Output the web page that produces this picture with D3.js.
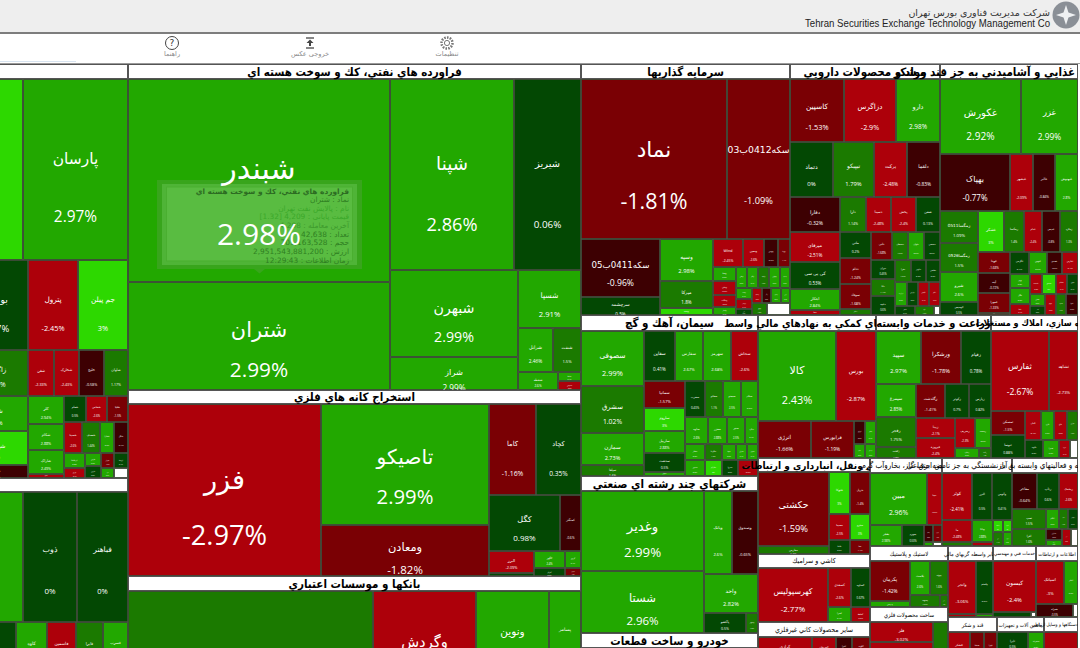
<!DOCTYPE html>
<html>

<head>
  <meta charset="utf-8">
  <title>نقشه بازار</title>
  <script src="https://d3js.org/d3.v7.min.js"></script>
  <style>
    html, body { margin: 0; padding: 0; background: #fff; overflow: hidden; }
    svg { display: block; }
    text { font-family: "DejaVu Sans", sans-serif; }
    .pct { font-family: "Open Sans", sans-serif; direction: ltr; }
    .name { direction: rtl; }
    .rtl { direction: rtl; }
    .title { font-family: "DejaVu Sans Condensed", "DejaVu Sans", sans-serif; }
  </style>
</head>

<body>
  <svg id="map_svg"></svg>

<script>
  // every leaf is [name, percent change, market size]; groups are ["x" | "y", ...children]
  const sector = (title, headerSize, cells) => ["y", ["^" + title, null, headerSize], cells];

  const petroCells = ["y",
    ["x", ["", 3, 10679], ["پارسان", 2.97, 19005]],
    ["x", ["بوعلی", 0.97, 5760], ["پترول", -2.45, 4500], ["جم پیلن", 3, 4500]],
    ["x",
      ["y", ["زاگرس", 1.16, 2944], ["شکلر", 2.5, 2240], ["شپدیس", 3, 2176], ["شملی", -0.6, 832]],
      ["y",
        ["x", ["شفن", -2.33, 1196], ["شخارک", -2.43, 1150], ["خلیج", -0.58, 1150], ["شاوان", 1.17, 1104]],
        ["x",
          ["y", ["کلر", 2.94, 1008], ["شکام", 2.88, 936], ["شاراک", 2.49, 864], ["شکبیر", -2.1, 144]],
          ["y",
            ["x", ["شفام", 0.5, 572], ["شخاص", -2.6, 546], ["شلیا", -1.5, 546]],
            ["x", ["شسینا", -2.6, 558], ["شصدف", 1.44, 558], ["شفارا", 2.5, 434], ["شگل", -0.4, 434]],
            ["x",
              ["y", ["کرماشا", 2.2, 315], ["نوری", -2.4, 210]],
              ["y", ["فارس", 2.6, 208], ["مارون", 0.3, 192]],
              ["y", ["شیراز", -1.6, 195], ["امیر", 2.5, 130]],
              ["y", ["ارومیا", 0.4, 210], ["", null, 140]]
            ]
          ]
        ]
      ]
    ]
  ];

  const basicMetalCells = ["y",
    ["x", ["", 2.5, 7670], ["ذوب", 0, 7020], ["فباهنر", 0, 6630]],
    ["x", ["", 0.4, 2496], ["کاوه", 2.6, 1488], ["فاسمین", -2.4, 1392], ["فایرا", 1.4, 1296], ["فسرب", 2.5, 1200]],
    ["", 0.4, 14760]
  ];

  const oilCells = ["x",
    ["y", ["شبندر", 2.98, 53186], ["شتران", 2.99, 28296]],
    ["y",
      ["x", ["شپنا", 2.86, 23684], ["شیریز", 0.06, 12797]],
      ["x",
        ["y", ["شبهرن", 2.99, 11136], ["شراز", 2.99, 4224]],
        ["y",
          ["شسپا", 2.91, 3654],
          ["x", ["شرانل", 2.46, 1540], ["شنفت", 1.5, 1232]],
          ["x", ["شفطه", 2.6, 720], ["y", ["شاملا", 2.4, 207], ["شدوص", -2.2, 207]]]
        ]
      ]
    ]
  ];

  const miningCells = ["x",
    ["فزر", -2.97, 33196],
    ["y", ["تاصیکو", 2.99, 20328], ["ومعادن", -1.82, 8568]],
    ["y",
      ["x", ["کاما", -1.16, 4277], ["کچاد", 0.35, 4095]],
      ["x", ["کگل", 0.98, 3976], ["کمنگنز", -0.6, 1176]],
      ["x",
        ["y", ["البرز", -2.09, 990], ["", 0.5, 135]],
        ["y",
          ["x", ["کگهر", 2.4, 527], ["کروی", 2.1, 272]],
          ["x", ["کترام", 0.5, 248], ["کبافق", -1.5, 128]]
        ]
      ]
    ]
  ];

  const bankCells = ["x",
    ["", 1.6, 41405],
    ["y", ["وگردش", -2.6, 11742], ["", -2.6, 5665]],
    ["y", ["ونوین", 2.9, 6570], ["", 2.4, 5767]],
    ["y", ["پسامر", 2.6, 2816], ["", 2.4, 2592]]
  ];

  const investCells = ["y",
    ["x", ["نماد", -1.81, 23360], ["سکه0412ب03", -1.09, 10080]],
    ["x",
      ["y", ["سکه0411ب05", -0.96, 4611], ["سرچشمه", 0.5, 1431]],
      ["y", ["وسپه", 2.98, 2205], ["میرکا", 1.8, 1418], ["وبیمه", 3, 368]],
      ["y",
        ["x", ["Wind", -2.45, 836], ["ومعین", -2.6, 599], ["وتوس", -0.5, 392], ["وپویا", -1.4, 329]],
        ["x",
          ["y", ["وصنا", 2.6, 322], ["ونیکی", -2.3, 322], ["وسکاب", -2.2, 276], ["ولتجار", 2.4, 184]],
          ["y",
            ["x", ["وملی", 2.5, 231], ["وکار", 2.4, 231], ["وامید", 1.5, 231], ["ومهان", 2.6, 231], ["وساپا", 2.2, 210]],
            ["x",
              ["y", ["ونفت", 2.4, 176], ["وبهمن", -2.4, 160], ["واتی", 0.4, 96]],
              ["y",
                ["x", ["واعتبار", -2.3, 150], ["وآذر", -0.6, 135], ["وسین", 2.5, 150], ["ودی", 2.2, 135]],
                ["x", ["وثوق", 1.3, 180], ["", null, 276]]
              ]
            ]
          ]
        ]
      ]
    ]
  ];

  const pharmaCells = ["y",
    ["x", ["کاسپین", -1.53, 3402], ["دزاگرس", -2.9, 3276], ["دارو", 2.98, 2772]],
    ["x", ["دتماد", 0, 2365], ["تیپیکو", 1.79, 2255], ["برکت", -2.48, 1815], ["دلقما", -0.83, 1815]],
    ["x", ["دفارا", -0.32, 1750], ["دارا", 1.14, 910], ["دسینا", -2.48, 875], ["پخش", -2.4, 875], ["شفن", 0.13, 840]],
    ["x",
      ["y", ["میرفای", -2.51, 1500], ["کی بی سی", 0.53, 1350], ["ابتکار", 2.84, 1050], ["شفا", -2.1, 250]],
      ["y", ["ملتی", 0.2, 806], ["ددام", -1.24, 806], ["سوفاد", -1.68, 775], ["دجابر", 1.2, 186]],
      ["y",
        ["x", ["دلپی", -1.68, 588], ["دسبحان", 1.5, 448], ["دتوان", 2.5, 448], ["دشیمی", 0.5, 448]],
        ["x",
          ["y", ["دیران", 0.45, 456], ["دانا", 1.4, 408], ["دعبید", 0.6, 456]],
          ["y",
            ["x", ["دفرا", 1.5, 352], ["دکوثر", 0.5, 330], ["دقاضی", 0.5, 308]],
            ["x", ["درازک", 2.5, 288], ["دپارس", 0.5, 264], ["دکیمی", -2.4, 264], ["دالبر", -2.5, 264]],
            ["x", ["دامین", 0.4, 180], ["داوه", 1.5, 171], ["", null, 54]]
          ]
        ]
      ]
    ]
  ];

  const foodCells = ["y",
    ["x", ["غکورش", 2.92, 6075], ["غزر", 2.99, 4275]],
    ["x", ["بهپاک", -0.77, 3990], ["غبشهر", -2.09, 1311], ["غالبر", -0.84, 1254], ["غبهنوش", 2.8, 1311]],
    ["x",
      ["y", ["زمگسا0511", 1.09, 1216], ["زمگسا0526", 1.5, 1102], ["شیرو", 2.6, 1140], ["گوسیس", 0.5, 494]],
      ["y",
        ["x", ["غشکر", 3, 1066], ["زمگسا", 1.4, 820], ["غدام", -2.4, 738], ["غدیس", -0.8, 738], ["زملارد", 1.3, 738]],
        ["x",
          ["y", ["غویتا", -1.68, 672], ["آینه", -0.72, 640], ["غمهرا", -1.33, 640], ["غپاک", -2.2, 64]],
          ["y",
            ["x", ["غگرجی", 0.4, 418], ["غنوش", 2.5, 396], ["غصینو", -0.6, 330], ["غفارس", -2.4, 352]],
            ["x",
              ["y", ["بهپیر", 2.2, 280], ["غگل", 2.6, 320], ["غنیلا", -2.4, 220]],
              ["y",
                ["x", ["غدشت", -2.3, 240], ["غمینو", 3, 280], ["غسالم", -2.4, 220], ["غچین", 0.4, 220]],
                ["x",
                  ["y", ["غشان", 2.6, 180], ["غاذر", 0.3, 135]],
                  ["غپینو", -2.3, 231], ["غشهد", 1.6, 210], ["غیوا", -0.5, 252]
                ]
              ]
            ]
          ]
        ]
      ]
    ]
  ];

  const cementCells = ["x",
    ["y", ["سصوفی", 2.99, 3465], ["سشرق", 1.02, 2961], ["سمازن", 2.73, 2016], ["سپاها", 1.4, 693]],
    ["y",
      ["x", ["سقاین", 0.41, 1550], ["سفارس", 2.67, 1425], ["سهرمز", 2.68, 1400], ["سخاش", -2.6, 1325]],
      ["x",
        ["y", ["سمانیا", -1.57, 1107], ["ساروم", 3, 943], ["ساربیل", 2.88, 902], ["سدشت", 0.5, 779], ["سبهان", 2.6, 164]],
        ["y",
          ["x", ["سغرب", 0.43, 720], ["سفانو", 1.1, 648], ["سبجنو", 2.5, 648], ["سیلام", 2.6, 612]],
          ["x", ["ساوه", 2.6, 621], ["سخزر", 2.88, 513], ["سنیر", 2.5, 486], ["سکرد", 2.4, 351]],
          ["x", ["سفار", 2.5, 320], ["سکرما", 1.6, 272], ["سپیا", 2.5, 224], ["ستران", 2.4, 176], ["سنوین", 2.4, 176]],
          ["x", ["سدور", 2.5, 320], ["سارام", 3, 272], ["سبزوا", 0.6, 256], ["سرود", -2.6, 320]]
        ]
      ]
    ]
  ];

  const conglomCells = ["x",
    ["y", ["وغدیر", 2.99, 9840], ["شستا", 2.96, 7626]],
    ["y",
      ["x", ["وبانک", 2.6, 2324], ["وصندوق", -0.65, 2158]],
      ["واحد", 2.82, 2106],
      ["x", ["پاکشو", 0.5, 840], ["وسپهر", 1.5, 240]]
    ]
  ];

  const autoCells = ["", 2.4, 19824];

  const finAidCells = ["y",
    ["x", ["کالا", 2.43, 7020], ["بورس", -2.87, 3600]],
    ["x",
      ["انرژی", -1.66, 1961],
      ["فرابورس", -1.19, 1591],
      ["y", ["اوراق", -0.5, 253], ["افق", 2.5, 154]],
      ["y", ["بفجر", 2.4, 253], ["ارزش", 2.5, 154]]
    ]
  ];

  const agriCells = ["y",
    ["x", ["سپید", 2.97, 2385], ["ورشکرا", -1.78, 2120], ["زقیام", 0.78, 1590]],
    ["x",
      ["y", ["سیمرغ", 2.85, 1320], ["زفجر", 1.75, 1200], ["زکشت", 1.3, 440]],
      ["y",
        ["x", ["زگلدشت", -1.41, 986], ["زکوثر", 0.7, 816], ["زپارس", 0.82, 748]],
        ["x",
          ["y", ["زبینا", -2.1, 780], ["فیروزه", -2.4, 780]],
          ["y",
            ["x", ["زشریف", -2.3, 600], ["زدشت", 2.6, 480]],
            ["x", ["زملارد", 2.5, 240], ["زمگسا", 1.5, 120]]
          ]
        ]
      ]
    ]
  ];

  const estateCells = ["y",
    ["x", ["ثفارس", -2.67, 4640], ["ثشاهد", -2.73, 2320]],
    ["x",
      ["y", ["ثمسکن", -1.5, 816], ["ثنوسا", 0.88, 782]],
      ["y",
        ["x", ["ثامان", -2.4, 464], ["ثاژن", 2.5, 377], ["ثباغ", -2.3, 377], ["ثتران", 1.5, 319]],
        ["x", ["ثالوند", 0.5, 324], ["ثعمرا", 2.6, 288], ["ثرود", -2.4, 198], ["", null, 144]]
      ]
    ]
  ];

  const transportCells = ["x",
    ["y", ["حکشتی", -1.59, 5254], ["حفارس", 1.5, 568]],
    ["y",
      ["x", ["حتوکا", 3, 882], ["حریل", -1.4, 840]],
      ["x", ["حسینا", -2.5, 546], ["حپترو", 3, 520]],
      ["x", ["حآسا", 0.6, 294], ["حفا", -1.4, 280]]
    ]
  ];

  const ceramicCells = ["x",
    ["کهرسپولیس", -2.77, 3780],
    ["y",
      ["x", ["کسعدی", -2.6, 897], ["کساوه", 0.67, 741]],
      ["x", ["کسرا", 2.4, 345], ["کحافظ", -2.6, 285]]
    ]
  ];

  const mineralCells = ["y",
    ["x", ["کرازی", -2.5, 1188], ["کمرجان", -2.4, 528], ["کفرا", -0.7, 352], ["کلوند", -1.5, 396]],
    ["", -2.4, 11312]
  ];

  const electricCells = ["y",
    ["x", ["مبین", 2.96, 2964], ["بمپنا", -2.5, 780]],
    ["x", ["بفجر", 2.98, 672], ["بجهرم", 0.53, 462],
      ["y", ["بکام", -0.8, 153], ["", 2.5, 36]],
      ["y", ["بنیرو", -1.2, 153], ["", null, 36]]
    ]
  ];

  const insuranceCells = ["y",
    ["x", ["کوثر", -2.41, 1410], ["البرز", 0.5, 940], ["وآتوس", 0.41, 940]],
    ["x",
      ["y", ["ما", -2.48, 660], ["", 1.5, 120]],
      ["y", ["ودانا", 2.88, 462], ["", -2.4, 84]],
      ["y",
        ["x", ["حافظ", 3, 120], ["آسیا", 3, 108]],
        ["x", ["دی", 1.4, 140], ["میهن", 2.5, 126]]
      ]
    ]
  ];

  const computerCells = ["y",
    ["x", ["مفاخر", -0.64, 900], ["رتاپ", 0.6, 792], ["ریشمک", -2.6, 684]],
    ["x",
      ["y", ["سپ", 1.5, 680], ["افرا", 1.6, 578]],
      ["y",
        ["x", ["اتکام", 2.5, 260], ["انفو", 1.5, 180], ["رکیش", 0.5, 200]],
        ["x",
          ["y", ["مداران", -0.6, 176], ["ایرکا", 2.5, 96]],
          ["فن", -2.5, 153],
          ["", null, 119]
        ]
      ]
    ]
  ];

  const plasticCells = ["x",
    ["y", ["پکرمان", -1.42, 1600], ["پدرخش", 2.6, 240]],
    ["y",
      ["x", ["پلاست", 2.6, 680], ["پیوند", 1.6, 612]],
      ["x", ["پسهند", 1.5, 360], ["پتایر", 1.5, 96]]
    ]
  ];

  const metalProductCells = ["x",
    ["y", ["فلز", -3.02, 1260], ["", -2.6, 7434]],
    ["فجر", 1.5, 2070]
  ];

  const finBrokerCells = ["x",
    ["y", ["واتجر", -3.06, 1484], ["", -2.2, 84]],
    ["y", ["ولصنم", 0.6, 901], ["", 2.4, 51]]
  ];

  const engineeringCells = ["y",
    ["کیسون", -2.4, 2193],
    ["x", ["", 0.5, 190], ["", null, 25]]
  ];

  const infoCells = ["y",
    ["x", ["اسیاتک", -3, 1204], ["اخابر", 2.6, 602]],
    ["x", ["همراه", -0.5, 481], ["", null, 65]]
  ];

  const sugarCells = ["y",
    ["x", ["قشکر", -2.6, 675], ["قنیشا", -1.5, 420], ["قپیرا", -1.4, 375]],
    ["", -2.4, 4802]
  ];

  const machineCells = ["y",
    ["x", ["تایرا", 0.5, 620], ["تمحرکه", 2.3, 320]],
    ["", 0.5, 5076]
  ];

  const otherCells = ["لخزر", -2.6, 4352];

  const tooltipLines = [
    "فراورده هاي نفتي، كك و سوخت هسته اي",
    "نماد : شتران",
    "نام : پالایش نفت تهران",
    "قیمت پایانی : 4,209 [1.32]",
    "آخرین معامله : 4,208",
    "تعداد : 42,638",
    "حجم : 701,163,528",
    "ارزش : 2,951,543,881,200",
    "زمان اطلاعات : 12:29:43"
  ];
  const toolbarLabels = ["راهنما", "خروجی عکس", "تنظیمات"];

  const tree = ["x",
    ["y", sector("", 2460, petroCells), sector("", 2296, basicMetalCells)],
    ["y",
      sector("فراورده هاي نفتي، كك و سوخت هسته اي", 6795, oilCells),
      sector("استخراج كانه هاي فلزي", 6342, miningCells),
      sector("بانكها و موسسات اعتباري", 6795, bankCells)
    ],
    ["y",
      ["x",
        sector("سرمايه گذاريها", 3135, investCells),
        sector("مواد و محصولات دارويي", 2250, pharmaCells),
        sector("غذايي و آشاميدني به جز قند و شكر", 2070, foodCells)
      ],
      ["x",
        ["y",
          sector("سيمان، آهك و گچ", 2832, cementCells),
          sector("شركتهاي چند رشته اي صنعتي", 2655, conglomCells),
          sector("خودرو و ساخت قطعات", 2655, autoCells)
        ],
        ["y",
          ["x",
            sector("فعاليتهاي كمكي به نهادهاي مالي واسط", 1888, finAidCells),
            sector("زراعت و خدمات وابسته", 1840, agriCells),
            sector("انبوه سازي، املاك و مستغلات", 1392, estateCells)
          ],
          ["x",
            ["y",
              sector("حمل ونقل، انبارداري و ارتباطات", 1568, transportCells),
              sector("كاشي و سراميك", 1568, ceramicCells),
              sector("ساير محصولات كاني غيرفلزي", 1680, mineralCells)
            ],
            ["y",
              ["x",
                sector("عرضه برق، گاز، بخاروآب گرم", 1080, electricCells),
                sector("بيمه وصندوق بازنشستگي به جز تامين اجتماعي", 1050, insuranceCells),
                sector("رايانه و فعاليتهاي وابسته به آن", 990, computerCells)
              ],
              ["x",
                ["y",
                  sector("لاستيك و پلاستيك", 1170, plasticCells),
                  sector("ساخت محصولات فلزي", 1170, metalProductCells)
                ],
                ["y",
                  ["x",
                    sector("ساير واسطه گريهاي مالي", 675, finBrokerCells),
                    sector("خدمات فني و مهندسي", 645, engineeringCells),
                    sector("اطلاعات و ارتباطات", 630, infoCells)
                  ],
                  ["x",
                    sector("قند و شكر", 735, sugarCells),
                    sector("ماشين آلات و تجهيزات", 705, machineCells),
                    sector("ساخت دستگاهها و وسايل ارتباطي", 510, otherCells)
                  ]
                ]
              ]
            ]
          ]
        ]
      ]
    ]
  ];

  var width = 1080;
  var height = 648;

  // the map starts left of the window and ends below it, as in the screenshot
  const mapLeft = -36, mapTop = 64, mapWidth = 1114, mapHeight = 696;

  const titleSizes = {
    "فعاليتهاي كمكي به نهادهاي مالي واسط": 10.5,
    "زراعت و خدمات وابسته": 11,
    "انبوه سازي، املاك و مستغلات": 9,
    "حمل ونقل، انبارداري و ارتباطات": 10,
    "كاشي و سراميك": 7,
    "ساير محصولات كاني غيرفلزي": 7,
    "لاستيك و پلاستيك": 6,
    "عرضه برق، گاز، بخاروآب گرم": 8,
    "بيمه وصندوق بازنشستگي به جز تامين اجتماعي": 8,
    "رايانه و فعاليتهاي وابسته به آن": 8,
    "ساير واسطه گريهاي مالي": 5.5,
    "خدمات فني و مهندسي": 4.8,
    "اطلاعات و ارتباطات": 5,
    "ساخت محصولات فلزي": 5.8,
    "قند و شكر": 5.5,
    "ماشين آلات و تجهيزات": 5.2,
    "ساخت دستگاهها و وسايل ارتباطي": 4.6
  };

  var color = d3.scaleThreshold()
    .domain([-2, -1, 0, 1, 2, 3])
    .range(["#ad000a", "#7a0004", "#3d0002", "#034803", "#1b7a00", "#22a800", "#2dd800"]);

  const isGroup = d => (d[0] === "x" || d[0] === "y") && Array.isArray(d[1]);

  const root = d3.hierarchy(tree, d => isGroup(d) ? d.slice(1) : null)
    .sum(d => isGroup(d) ? 0 : d[2]);

  d3.treemap()
    .size([mapWidth, mapHeight])
    .round(true)
    .tile((node, x0, y0, x1, y1) =>
      (node.data[0] === "x" ? d3.treemapDice : d3.treemapSlice)(node, x0, y0, x1, y1))(root);

  var svg = d3.select("#map_svg")
    .attr("width", width)
    .attr("height", height);

  // page header
  svg.append("rect").attr("width", width).attr("height", 33).attr("fill", "#eeeeee");
  svg.append("rect").attr("y", 32).attr("width", width).attr("height", 2).attr("fill", "#7d7d7d");
  svg.append("rect").attr("y", 63).attr("width", width).attr("height", 1).attr("fill", "#9a9a9a");
  svg.append("rect").attr("y", 61).attr("width", 76).attr("height", 1).attr("fill", "#d8e4f0");

  svg.append("text").attr("class", "rtl")
    .attr("x", 1050).attr("y", 12).attr("dominant-baseline", "central")
    .attr("font-size", 9.5).attr("fill", "#333")
    .text("شرکت مدیریت فناوری بورس تهران");
  svg.append("text")
    .attr("x", 1050).attr("y", 22.5).attr("dominant-baseline", "central").attr("text-anchor", "end")
    .attr("font-size", 10.5).attr("fill", "#222")
    .attr("textLength", 245).attr("lengthAdjust", "spacingAndGlyphs")
    .style("font-family", "'Liberation Sans', sans-serif")
    .text("Tehran Securities Exchange Technology Management Co");

  var logo = svg.append("g").attr("transform", "translate(1066,15)");
  logo.append("circle").attr("r", 13.5).attr("fill", "#8a8f96");
  logo.append("path")
    .attr("fill", "#eef0f2")
    .attr("d", d3.lineRadial().curve(d3.curveLinearClosed)
      .angle((d, i) => i * Math.PI / 4)
      .radius((d, i) => i % 2 ? 3.5 : 10)(d3.range(8)));

  // toolbar
  var help = svg.append("g").attr("transform", "translate(172,43)");
  help.append("circle").attr("r", 6.5).attr("fill", "#fff").attr("stroke", "#444");
  help.append("text").attr("text-anchor", "middle").attr("dominant-baseline", "central")
    .attr("font-size", 9).attr("fill", "#333").text("?");

  var exportIcon = svg.append("g").attr("transform", "translate(310,43)")
    .attr("stroke", "#444").attr("stroke-width", 1.3);
  exportIcon.append("line").attr("x1", -4).attr("x2", 4).attr("y1", -5).attr("y2", -5);
  exportIcon.append("line").attr("x1", -4).attr("x2", 4).attr("y1", 5).attr("y2", 5);
  exportIcon.append("path").attr("stroke", "none").attr("fill", "#444").attr("d", "M-3.5,0L0,-3.5L3.5,0H1V3H-1V0Z");

  var gear = svg.append("g").attr("transform", "translate(447,43)").attr("fill", "none").attr("stroke", "#777");
  gear.append("circle").attr("r", 5.5).attr("stroke-width", 2.5).attr("stroke-dasharray", "1.6 1.2");
  gear.append("circle").attr("r", 2.6);

  svg.selectAll(".tool-label")
    .data(toolbarLabels)
    .enter()
    .append("text")
    .attr("class", "tool-label rtl")
    .attr("x", (d, i) => [172, 310, 447][i])
    .attr("y", 54)
    .attr("text-anchor", "middle")
    .attr("dominant-baseline", "central")
    .attr("font-size", 6.5)
    .attr("fill", "#888")
    .text(d => d);

  var defs = svg.append("defs");

  const shift = `translate(${mapLeft},${mapTop})`;
  var map = svg.append("g").attr("transform", shift);

  const leaves = root.leaves();
  const cells = leaves.filter(d => d.data[0][0] !== "^");
  const headers = leaves.filter(d => d.data[0][0] === "^");

  map.selectAll(".cell")
    .data(cells)
    .enter()
    .append("rect")
    .attr("class", "cell")
    .attr("x", d => d.x0 + 0.5)
    .attr("y", d => d.y0 + 0.5)
    .attr("width", d => Math.max(0, d.x1 - d.x0 - 1))
    .attr("height", d => Math.max(0, d.y1 - d.y0 - 1))
    .attr("fill", d => d.data[1] === null ? "#fff" : color(d.data[1]))
    .attr("stroke", "#2e3b28")
    .attr("stroke-opacity", 0.85);

  // hover box left open over the big tile; it sits under the tile's own text
  var tip = svg.append("g").attr("transform", "translate(157,180)");
  tip.append("rect").attr("width", 205).attr("height", 89).attr("fill", "#38a51c");
  tip.append("rect").attr("x", 5).attr("y", 4).attr("width", 195).attr("height", 81).attr("fill", "#4fb437");
  tip.append("rect").attr("x", 9.5).attr("y", 7).attr("width", 186).attr("height", 74)
    .attr("fill", "#59bc41").attr("stroke", "#4aaf30");
  tip.append("path").attr("fill", "#38a51c").attr("d", "M97,89h11l-5.5,4.5Z");
  tip.selectAll(".tip-line")
    .data(tooltipLines)
    .enter()
    .append("text")
    .attr("class", "tip-line rtl")
    .attr("x", 192)
    .attr("y", (d, i) => 11 + i * 8.65)
    .attr("dominant-baseline", "central")
    .attr("font-size", 7.4)
    .attr("font-weight", (d, i) => i === 0 ? "bold" : "normal")
    .attr("fill", (d, i) => i === 2 || i === 3 ? "#3ba82a" : i === 4 ? "#3d9a2c" : i === 0 ? "#2c6b22" : "#2f7f22")
    .text(d => d);

  // text grows with the tile, but narrow or flat tiles hold it back
  function labelSize(d) {
    var w = d.x1 - d.x0, h = d.y1 - d.y0;
    var side = Math.sqrt(w * h);
    return Math.min(30, w * 0.147, h * 0.165 + 3, side * (0.115 + side * 0.00019));
  }

  var labelLayer = svg.append("g").attr("transform", shift);

  var labels = labelLayer.selectAll(".label")
    .data(cells.filter(d => d.data[0] !== ""))
    .enter()
    .append("g")
    .attr("class", "label")
    .attr("clip-path", (d, i) => `url(#cell-clip-${i})`);

  labels.each(function(d, i) {
    defs.append("clipPath").attr("id", "cell-clip-" + i)
      .append("rect")
      .attr("x", d.x0).attr("y", d.y0)
      .attr("width", d.x1 - d.x0).attr("height", d.y1 - d.y0);
  });

  labels.append("text")
    .attr("class", "name")
    .attr("x", d => (d.x0 + d.x1) / 2)
    .attr("y", d => d.y0 + (d.y1 - d.y0) * 0.44)
    .attr("text-anchor", "middle")
    .attr("dominant-baseline", "central")
    .attr("fill", "#fff")
    .attr("font-size", labelSize)
    .text(d => d.data[0]);

  labels.append("text")
    .attr("class", "pct")
    .attr("x", d => (d.x0 + d.x1) / 2)
    .attr("y", d => d.y0 + (d.y1 - d.y0) * 0.44 + Math.max((d.y1 - d.y0) * 0.32, labelSize(d) * 1.9))
    .attr("text-anchor", "middle")
    .attr("dominant-baseline", "central")
    .attr("fill", "#fff")
    .attr("font-size", labelSize)
    .text(d => d.data[1] + "%");

  // sector headers go last, in order, so a long title runs over its neighbours
  defs.append("clipPath").attr("id", "map-clip-page")
    .append("rect").attr("width", mapLeft + mapWidth).attr("height", height);
  var headerLayer = svg.append("g").attr("clip-path", "url(#map-clip-page)")
    .append("g").attr("transform", shift);

  headers.forEach(function(d) {
    var title = d.data[0].slice(1);
    headerLayer.append("rect")
      .attr("x", d.x0 + 0.5)
      .attr("y", d.y0 + 0.5)
      .attr("width", d.x1 - d.x0 - 1)
      .attr("height", d.y1 - d.y0 - 1)
      .attr("fill", "#fff")
      .attr("stroke", "#555");

    if (title === "") return;

    var size = titleSizes[title] || 11.5;
    var label = headerLayer.append("text")
      .attr("class", "title rtl")
      .attr("y", (d.y0 + d.y1) / 2)
      .attr("dominant-baseline", "central")
      .attr("font-size", size)
      .attr("font-weight", size >= 9 ? "bold" : "normal")
      .attr("fill", "#000")
      .text(title);

    // the food title hugs the right edge of the window instead of being cut
    if (title.startsWith("غذايي")) {
      label.attr("x", d.x1 - 3);
    } else {
      label.attr("x", (d.x0 + d.x1) / 2).attr("text-anchor", "middle");
    }
  });
</script>
</body>

</html>
